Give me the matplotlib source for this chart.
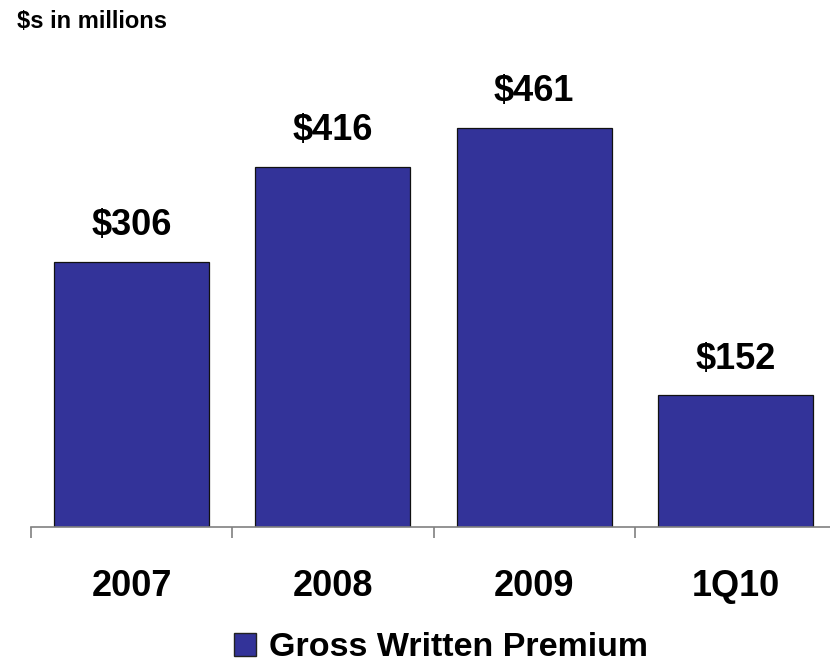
import matplotlib
matplotlib.use("Agg")
import matplotlib.pyplot as plt
from matplotlib.patches import Patch

plt.rcParams['font.family'] = ['Liberation Sans', 'DejaVu Sans']
plt.rcParams['font.weight'] = 'bold'

# dati
categories = ["2007", "2008", "2009", "1Q10"]
premium = [306, 416, 461, 152]
value_labels = ["$306", "$416", "$461", "$152"]
series_name = "Gross Written Premium"

bar_color = "#333399"

fig = plt.figure(figsize=(8.3, 6.65), dpi=100)
# assi: baseline a y=527px, bordo destro oltre la figura
ax = fig.add_axes([31 / 830, 138 / 665, 805 / 830, 467 / 665])

x = list(range(len(categories)))
ax.bar(x, premium, width=0.77, color=bar_color, edgecolor="#111111", linewidth=0.9)

for xi, v, lab in zip(x, premium, value_labels):
    ax.annotate(lab, (xi, v), xytext=(0, 19), textcoords="offset points",
                ha="center", va="baseline", fontsize=26, fontweight="bold")

ax.set_xlim(-0.5, 3.5)
ax.set_ylim(0, 539)

for s in ["top", "right", "left"]:
    ax.spines[s].set_visible(False)
ax.spines["bottom"].set_color("#808080")
ax.spines["bottom"].set_linewidth(1.2)

ax.set_yticks([])
ax.set_xticks(x)
ax.set_xticklabels(categories, fontsize=26, fontweight="bold")
ax.tick_params(axis="x", which="major", length=0, pad=30)
ax.set_xticks([-0.5, 0.5, 1.5, 2.5, 3.5], minor=True)
ax.tick_params(axis="x", which="minor", length=8, width=1.2, color="#808080")

fig.text(17 / 830, 1 - 22 / 665, "$s in millions", fontsize=17, fontweight="bold",
         ha="left", va="center")

handle = Patch(facecolor=bar_color, edgecolor="#222222", linewidth=1)
fig.legend([handle], [series_name], loc="center", bbox_to_anchor=(441 / 830, 1 - 648 / 665),
           frameon=False, handlelength=0.65, handleheight=0.65,
           handletextpad=0.4, borderpad=0, prop={"weight": "bold", "size": 24.5})

fig.savefig("out.png", dpi=100)
